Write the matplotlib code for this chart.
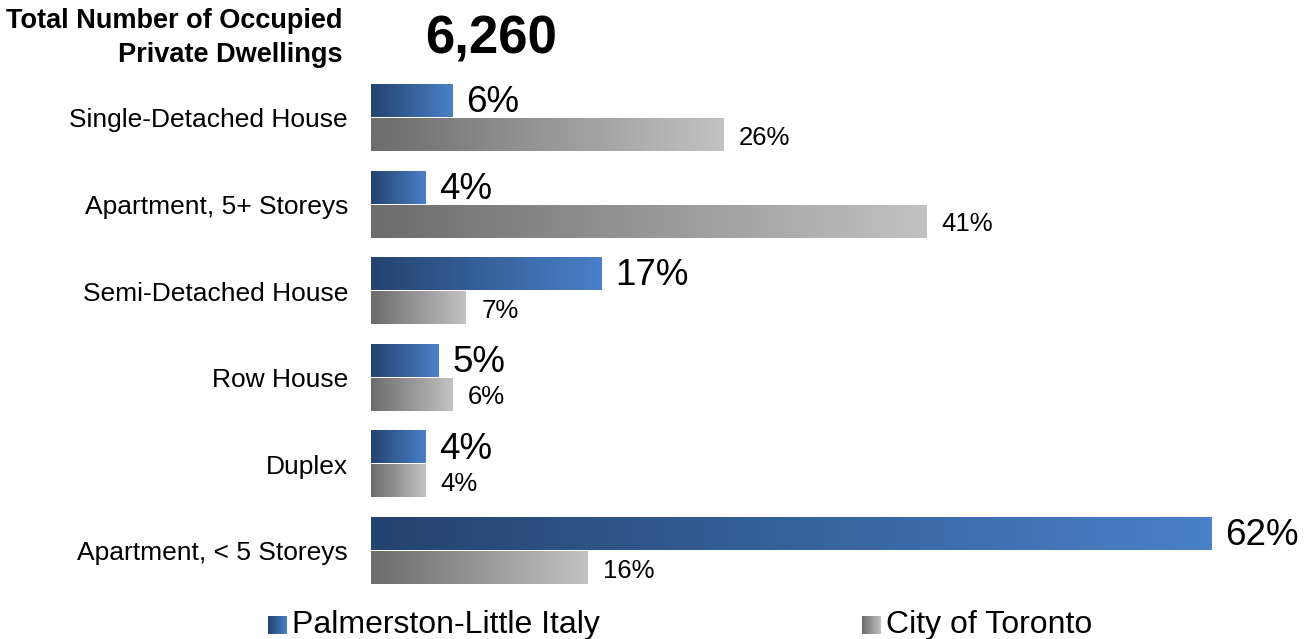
import numpy as np
import matplotlib.pyplot as plt
from matplotlib.colors import LinearSegmentedColormap

plt.rcParams['font.family'] = ['Liberation Sans', 'DejaVu Sans']

# dwelling types, top to bottom
categories = ['Single-Detached House', 'Apartment, 5+ Storeys', 'Semi-Detached House',
              'Row House', 'Duplex', 'Apartment, < 5 Storeys']
palmerston = [6, 4, 17, 5, 4, 62]
toronto = [26, 41, 7, 6, 4, 16]
series_names = ['Palmerston-Little Italy', 'City of Toronto']
total_label = '6,260'

blue_cmap = LinearSegmentedColormap.from_list('blue_grad', ['#24436f', '#4a80c8'])
gray_cmap = LinearSegmentedColormap.from_list('gray_grad', ['#6c6c6c', '#c2c2c2'])
grad = np.linspace(0, 1, 256).reshape(1, -1)

W, H = 1306, 639
fig = plt.figure(figsize=(W / 100, H / 100), dpi=100)
ax = fig.add_axes([371 / W, (H - 600) / H, (W - 371) / W, 530 / H])

bar_h = 0.37
off = 0.196


def grad_bar(ax, y, v, cmap):
    ax.imshow(grad, cmap=cmap, aspect='auto', interpolation='bilinear',
              extent=(0, v, y + bar_h / 2, y - bar_h / 2), zorder=2)


for i, (p, t) in enumerate(zip(palmerston, toronto)):
    grad_bar(ax, i - off, p, blue_cmap)
    grad_bar(ax, i + off, t, gray_cmap)
    ax.annotate(f'{p}%', (p, i - off + 0.02), xytext=(10, 0), textcoords='offset points',
                va='center', ha='left', fontsize=26.5)
    ax.annotate(f'{t}%', (t, i + off + 0.03), xytext=(11, 0), textcoords='offset points',
                va='center', ha='left', fontsize=18.5)

ax.set_xlim(0, (W - 371) / 13.55)
ax.set_ylim(5.566, -0.554)
ax.set_yticks(range(len(categories)))
ax.set_yticklabels(categories, fontsize=19)
ax.tick_params(axis='y', length=0, pad=16.5)
ax.set_xticks([])
for s in ax.spines.values():
    s.set_visible(False)

fig.text(343 / W, 1 - 38 / H, 'Total Number of Occupied\nPrivate Dwellings',
         ha='right', va='center', multialignment='right', fontsize=19.5,
         fontweight='bold', linespacing=1.45)
fig.text(491 / W, 1 - 40 / H, total_label, ha='center', va='center',
         fontsize=38, fontweight='bold')

# legend with gradient swatches
for x0, name, cmap in [(268, series_names[0], blue_cmap), (862, series_names[1], gray_cmap)]:
    sw = fig.add_axes([x0 / W, (H - 634) / H, 19 / W, 18 / H])
    sw.imshow(grad, cmap=cmap, aspect='auto', interpolation='bilinear')
    sw.axis('off')
    fig.text((x0 + 24) / W, 1 - 625 / H, name, ha='left', va='center', fontsize=23)

fig.savefig('out.png', dpi=100)
